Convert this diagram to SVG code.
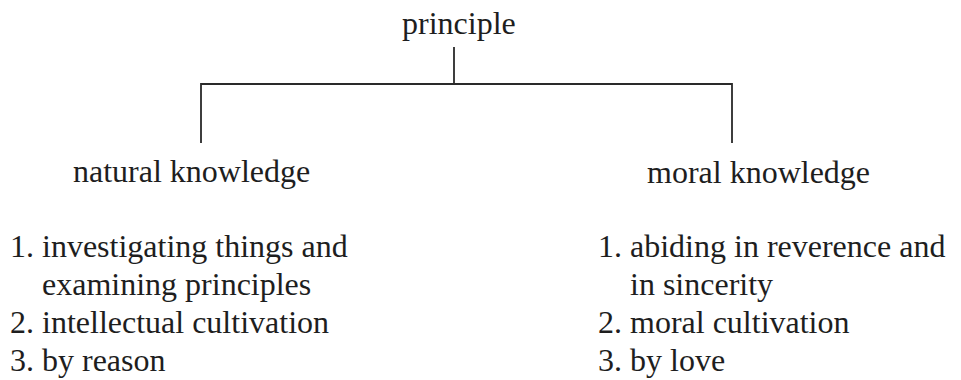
<svg xmlns="http://www.w3.org/2000/svg" width="961" height="380" viewBox="0 0 961 380">
<style>
text{font-family:"Liberation Serif","Times New Roman",serif;font-size:32px;fill:#1e1e1e}
.ln{stroke:#2a2a2a;stroke-width:1.8;fill:none}
</style>
<rect width="961" height="380" fill="#fff"/>
<g id="connectors">
<line class="ln" x1="454" y1="47" x2="454" y2="84"/>
<path class="ln" d="M201,143 V84 H732 V143"/>
</g>
<g id="principle"><text x="402" y="34">principle</text></g>
<g id="natural"><text x="73" y="182">natural knowledge</text></g>
<g id="moral"><text x="647" y="183">moral knowledge</text></g>
<g id="natural-list">
<text x="10" y="257">1. investigating things and</text>
<text x="42" y="295">examining principles</text>
<text x="10" y="333">2. intellectual cultivation</text>
<text x="10" y="371">3. by reason</text>
</g>
<g id="moral-list">
<text x="598" y="257">1. abiding in reverence and</text>
<text x="630" y="295">in sincerity</text>
<text x="598" y="333">2. moral cultivation</text>
<text x="598" y="371">3. by love</text>
</g>
</svg>
